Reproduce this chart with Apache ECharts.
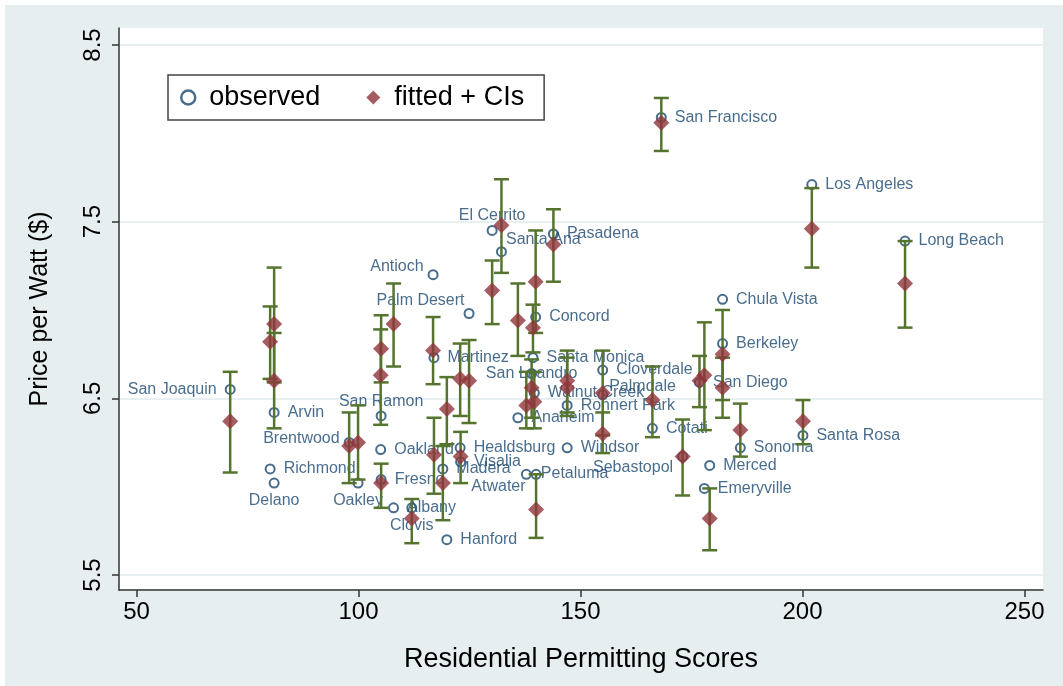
<!DOCTYPE html>
<html><head><meta charset="utf-8">
<script src="https://cdn.jsdelivr.net/npm/echarts@6/dist/echarts.min.js"></script>
<style>
html,body{margin:0;padding:0;background:#fff;}
#bg{position:absolute;left:5px;top:5px;right:0;bottom:0;background:#E7EEF0;}
#main{position:absolute;left:0;top:0;width:1063px;height:686px;}
</style>
</head><body><div id="bg"></div><div id="main"></div>
<script>
const cities = ['San Joaquin','Arvin','Richmond','Delano','Brentwood','Oakley','San Ramon','Oakland','Fresno','Albany','Clovis','Antioch','Martinez','Hanford','Madera','Healdsburg','Visalia','Palm Desert','El Cerrito','Santa Ana','Anaheim','Concord','Santa Monica','San Leandro','Petaluma','Walnut Creek','Atwater','Pasadena','Rohnert Park','Windsor','Cloverdale','Palmdale','Cotati','San Francisco','Sebastopol','San Diego','Emeryville','Merced','Chula Vista','Berkeley','Sonoma','Santa Rosa','Los Angeles','Long Beach'];
const scores   = [71.1,81.0,80.1,81.0,97.9,99.9,105.1,105.0,105.1,107.9,112.0,116.8,117.0,119.9,119.0,122.9,123.0,124.9,130.1,132.2,135.9,139.9,139.3,139.0,137.8,139.6,140.0,143.9,147.0,147.0,155.0,155.0,166.2,168.2,173.0,176.8,177.9,179.1,182.0,182.0,186.0,200.1,202.1,223.1];
const observed = [6.55,6.42,6.10,6.02,6.25,6.02,6.40,6.21,6.04,5.88,5.88,7.20,6.73,5.70,6.10,6.22,6.14,6.98,7.45,7.33,6.39,6.96,6.73,6.64,6.07,6.53,6.07,7.43,6.46,6.22,6.66,6.52,6.33,8.09,6.17,6.59,5.99,6.12,7.06,6.81,6.22,6.29,7.71,7.39];
const fitted   = [6.37,6.92,6.82,6.60,6.23,6.25,6.78,6.63,6.02,6.92,5.82,6.77,6.18,6.44,6.02,6.61,6.17,6.60,7.11,7.48,6.94,7.16,6.90,6.56,6.46,6.48,5.87,7.37,6.60,6.56,6.30,6.53,6.49,8.06,6.17,6.60,6.63,5.82,6.75,6.56,6.32,6.37,7.46,7.15];
const ciLow    = [6.08,6.59,6.61,6.33,6.02,6.04,6.59,6.35,5.88,6.68,5.68,6.58,5.96,6.24,5.81,6.40,6.02,6.36,6.92,7.21,6.74,6.87,6.76,6.39,6.33,6.33,5.71,7.16,6.42,6.40,6.19,6.29,6.28,7.90,5.95,6.45,6.32,5.64,6.49,6.39,6.17,6.24,7.24,6.90];
const ciHigh   = [6.65,7.24,7.02,6.87,6.42,6.46,6.97,6.89,6.13,7.15,5.93,6.96,6.39,6.62,6.23,6.81,6.31,6.83,7.28,7.74,7.15,7.45,7.03,6.72,6.65,6.65,6.07,7.57,6.77,6.73,6.42,6.77,6.68,8.20,6.38,6.74,6.93,5.99,7.00,6.73,6.47,6.49,7.69,7.39];
const xTicks = [50,100,150,200,250];
const yTicks = [5.5,6.5,7.5,8.5];

const NAVY = '#1A476F', MAROON = '#90353B', GREEN = '#55752F';
const FONT = '"Liberation Sans", Arial, Helvetica, sans-serif';

// label placement (style only); arrays are pixel positions relative to the marker box
const labelPlacement = {
  'San Joaquin': {position:'left'},
  'Delano': {position:'bottom', distance:4},
  'Oakley': {position:'bottom', distance:4},
  'Clovis': {position:'bottom', distance:4},
  'Brentwood': {position:[-4, 2], align:'right', verticalAlign:'middle'},
  'San Ramon': {position:'top', distance:1},
  'El Cerrito': {position:'top', distance:1},
  'Santa Ana': {position:[10, -7], align:'left', verticalAlign:'middle'},
  'Antioch': {position:[-4, -3], align:'right', verticalAlign:'middle'},
  'Palm Desert': {position:[1, -7], align:'right', verticalAlign:'middle'},
  'San Leandro': {position:'inside'},
  'Atwater': {position:[-5, 18], align:'right', verticalAlign:'middle'},
  'Sebastopol': {position:[-4, 16], align:'right', verticalAlign:'middle'},
  'Palmdale': {position:[12, -3], align:'left', verticalAlign:'middle'},
  'Petaluma': {position:[20, 4.5], align:'left', verticalAlign:'middle'}
};

const obsData = cities.map((c,i) => {
  const item = {name:c, value:[scores[i], observed[i]]};
  if (labelPlacement[c]) item.label = labelPlacement[c];
  return item;
});
const ciData = cities.map((c,i) => [scores[i], ciLow[i], ciHigh[i]]);
const fitData = cities.map((c,i) => ({name:c, value:[scores[i], fitted[i]]}));

const chart = echarts.init(document.getElementById('main'), null, {renderer:'canvas'});
chart.setOption({
  backgroundColor: 'transparent',
  animation: false,
  textStyle: {fontFamily: FONT},
  grid: {left:119, top:28, width:924, height:562, show:true, backgroundColor:'#fff', borderWidth:0},
  legend: {
    left: 168, top: 75,
    padding: [9, 20, 9, 12],
    itemGap: 46,
    itemWidth: 14, itemHeight: 14,
    symbolKeepAspect: true,
    backgroundColor: '#fff',
    borderColor: '#444', borderWidth: 1.5,
    textStyle: {fontSize: 27, color: '#000', fontFamily: FONT, padding:[0,0,0,9]},
    data: [
      {name:'observed', icon:'circle', itemStyle:{color:'#fff', borderColor:NAVY, borderWidth:2.5}},
      {name:'fitted + CIs', icon:'diamond', itemStyle:{color:MAROON}}
    ]
  },
  xAxis: {
    type:'value', min:46.06, max:254.17,
    name:'Residential Permitting Scores', nameLocation:'middle', nameGap:56,
    nameTextStyle:{fontSize:27, color:'#000', fontFamily:FONT},
    axisLine:{show:true, onZero:false, lineStyle:{color:'#333', width:1.5}},
    axisTick:{show:true, customValues:xTicks, length:7, lineStyle:{color:'#333', width:1.5}},
    axisLabel:{customValues:xTicks, fontSize:24, color:'#000', margin:10, fontFamily:FONT},
    splitLine:{show:false}
  },
  yAxis: {
    type:'value', min:5.415, max:8.596,
    name:'Price per Watt ($)', nameLocation:'middle', nameGap:66,
    nameTextStyle:{fontSize:25, color:'#000', fontFamily:FONT},
    axisLine:{show:true, onZero:false, lineStyle:{color:'#333', width:1.5}},
    axisTick:{show:true, customValues:yTicks, length:7, lineStyle:{color:'#333', width:1.5}},
    axisLabel:{customValues:yTicks, rotate:90, fontSize:24, color:'#000', margin:14, fontFamily:FONT,
      formatter: v => v.toFixed(1)},
    splitLine:{show:true, lineStyle:{color:'#E1EAEC', width:1.5}}
  },
  series: [
    {
      name:'observed', type:'scatter', z:2,
      symbol:'emptyCircle', symbolSize:9,
      itemStyle:{color:NAVY, borderColor:NAVY, borderWidth:2},
      label:{show:true, formatter:'{b}', position:'right', distance:8, color:NAVY, fontSize:16, fontFamily:FONT},
      labelLayout:{hideOverlap:false},
      data: obsData
    },
    {
      name:'CI', type:'custom', z:3,
      encode:{x:0, y:[1,2]},
      renderItem: function(params, api) {
        const x = api.value(0);
        const pLo = api.coord([x, api.value(1)]);
        const pHi = api.coord([x, api.value(2)]);
        const hw = 7.5;
        const st = {stroke:GREEN, lineWidth:2.5};
        return {type:'group', children:[
          {type:'line', shape:{x1:pLo[0], y1:pLo[1], x2:pHi[0], y2:pHi[1]}, style:st},
          {type:'line', shape:{x1:pLo[0]-hw, y1:pLo[1], x2:pLo[0]+hw, y2:pLo[1]}, style:st},
          {type:'line', shape:{x1:pHi[0]-hw, y1:pHi[1], x2:pHi[0]+hw, y2:pHi[1]}, style:st}
        ]};
      },
      data: ciData
    },
    {
      name:'fitted + CIs', type:'scatter', z:4,
      symbol:'diamond', symbolSize:[16,16],
      itemStyle:{color:MAROON},
      data: fitData
    }
  ]
});
</script></body></html>
